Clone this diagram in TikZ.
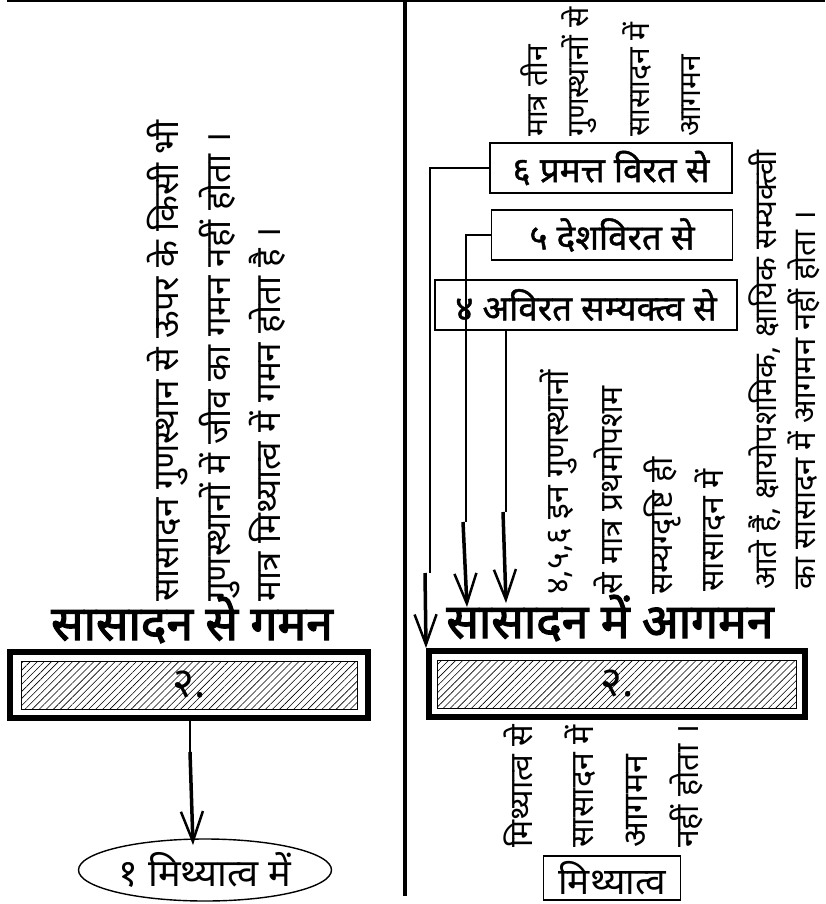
\documentclass[tikz,border=0pt]{standalone}
\usepackage{fontspec}
\newfontfamily\hindi[Script=Devanagari]{Noto Sans}
\newfontfamily\hindibold[Script=Devanagari,FakeBold=2.5]{Noto Sans}
\newfontfamily\hindimed[Script=Devanagari,FakeBold=1.2]{Noto Sans}
\usetikzlibrary{arrows.meta,patterns.meta,shapes.geometric,positioning}

\tikzset{
  coltext/.style={rotate=90, anchor=base west, inner sep=0pt, font=\hindi\fontsize{#1}{#1}\selectfont},
  coltext/.default=32,
  heading/.style={anchor=base, inner sep=0pt, font=\hindibold\fontsize{48}{50}\selectfont},
  stagebox/.style={draw, line width=1.5pt, inner sep=0pt, minimum height=50pt, font=\hindimed\fontsize{35}{36}\selectfont},
  outerbox/.style={draw, line width=6pt, inner sep=0pt, minimum height=66pt},
  hatchbox/.style={draw, line width=0.8pt, inner sep=0pt, minimum height=48pt,
    pattern={Lines[angle=45,distance=5pt,line width=0.6pt]}, font=\hindi\fontsize{42}{42}\selectfont},
  thinline/.style={line width=1.4pt},
  bigarrow/.style={line width=3.5pt, -{Straight Barb[length=30pt,width=22pt,line width=2.5pt]}},
}

\begin{document}
\begin{tikzpicture}[x=1pt,y=-1pt]
  \useasboundingbox (0,0) rectangle (825,904);
  \draw[line width=2.5pt] (7,1.25) -- (825,1.25);
  \draw[line width=4pt] (405,0) -- (405,896); % divider

  % left half: going out of sasadan
  \node[coltext=35] (l1) at (178,602) {सासादन गुणस्थान से ऊपर के किसी भी};
  \node[coltext=35] (l2) at (230,602) {गुणस्थानों में जीव का गमन नहीं होता ।};
  \node[coltext=35] (l3) at (280,602) {मात्र मिथ्यात्व में गमन होता है ।};

  \node[heading] (hL) at (192,640) {सासादन से गमन};
  \node[outerbox, minimum width=358pt] (sL) at (189,685) {};
  \node[hatchbox, minimum width=336pt] (iL) at (sL) {२.};
  \node[draw, ellipse, thinline, inner sep=0pt, minimum width=253pt, minimum height=62pt,
    font=\hindi\fontsize{38}{38}\selectfont] (mL) at (205,870) {१ मिथ्यात्व में};

  \coordinate (kL) at (190,752);
  \coordinate (eL) at (193,845);
  \draw[thinline] (sL.south -| kL) -- (kL);
  \draw[bigarrow] (kL) -- (eL);

  % right half: coming into sasadan
  \node[coltext=30] (t1) at (547,137) {मात्र तीन};
  \node[coltext=30] (t2) at (588,137) {गुणस्थानों से};
  \node[coltext=30] (t3) at (649,137) {सासादन में};
  \node[coltext=30] (t4) at (700,137) {आगमन};

  \node[stagebox, minimum width=242pt] (b6) at (611,168) {६ प्रमत्त विरत से};
  \node[stagebox, minimum width=241pt] (b5) at (612,235) {५ देशविरत से};
  \node[stagebox, minimum width=302pt] (b4) at (586,305) {४ अविरत सम्यक्त्व से};

  \node[coltext] (m1) at (568,595) {४,५,६ इन गुणस्थानों};
  \node[coltext] (m2) at (622,595) {से मात्र प्रथमोपशम};
  \node[coltext] (m3) at (672,595) {सम्यग्दृष्टि ही};
  \node[coltext] (m4) at (723,592) {सासादन में};
  \node[coltext=31] (m5) at (776,590) {आते हैं, क्षायोपशमिक, क्षायिक सम्यक्त्वी};
  \node[coltext=31] (m6) at (815,590) {का सासादन में आगमन नहीं होता ।};

  \node[heading] (hR) at (610,638) {सासादन में आगमन};
  \node[outerbox, minimum width=376pt] (sR) at (617,684) {};
  \node[hatchbox, minimum width=359pt] (iR) at (sR) {२.};

  \node[coltext=32] (n1) at (532,848) {मिथ्यात्व से};
  \node[coltext=32] (n2) at (593,848) {सासादन में};
  \node[coltext=34] (n3) at (647,848) {आगमन};
  \node[coltext=32] (n4) at (698,848) {नहीं होता ।};
  \node[draw, line width=1.7pt, inner sep=0pt, minimum width=137pt, minimum height=44pt,
    font=\hindi\fontsize{37}{37}\selectfont] (mR) at (612,878) {मिथ्यात्व};

  \coordinate (k6) at (430,573);
  \coordinate (k5) at (466,522);
  \coordinate (e5) at (467,607);
  \coordinate (k4) at (506,512);
  \coordinate (e4) at (506,603);
  \draw[thinline] (b6.west) -| (k6);
  \draw[bigarrow] (k6) ++(-5,0) -- (sR.north west);
  \draw[thinline] (b5.west) -| (k5);
  \draw[bigarrow] (k5) ++(-3,0) -- (e5);
  \draw[thinline] (b4.south -| k4) -- (k4);
  \draw[bigarrow] (k4) ++(-3,0) -- (e4);
\end{tikzpicture}
\end{document}
